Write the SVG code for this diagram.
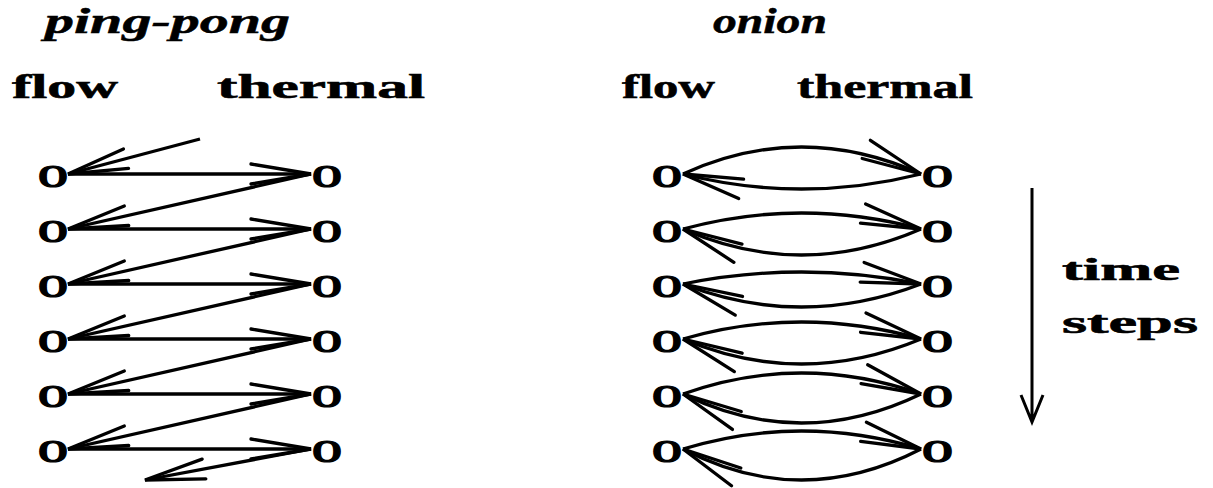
<svg xmlns="http://www.w3.org/2000/svg" width="1213" height="488" viewBox="0 0 1213 488">
<style>
.t{font-family:"Liberation Serif","Times New Roman",serif;font-weight:bold;fill:#000;stroke:#000;stroke-width:0.6}
.ti{font-family:"Liberation Serif","Times New Roman",serif;font-weight:bold;font-style:italic;fill:#000;stroke:#000;stroke-width:0.5}
.n{font-family:"Liberation Serif","Times New Roman",serif;font-weight:bold;font-size:31px;fill:#000;stroke:#000;stroke-width:1.2}
.c{fill:none;stroke:#000;stroke-width:3.3;marker-end:url(#h)}
</style>
<defs>
<marker id="h" markerUnits="userSpaceOnUse" viewBox="-70 -20 80 40" markerWidth="80" markerHeight="40" refX="0" refY="0" orient="auto" overflow="visible">
<path d="M-60,-10 L0,0 L-60,10" fill="none" stroke="#000" stroke-width="3.3" stroke-linecap="round"/>
</marker>
</defs>
<rect width="1213" height="488" fill="#fff"/>
<g id="titles">
<text class="ti" x="45" y="33" font-size="36" textLength="245" lengthAdjust="spacingAndGlyphs">ping-pong</text>
<text class="ti" x="713" y="33" font-size="36" textLength="114" lengthAdjust="spacingAndGlyphs">onion</text>
<text class="t" x="12" y="98" font-size="34" textLength="106" lengthAdjust="spacingAndGlyphs">flow</text>
<text class="t" x="217" y="98" font-size="34" textLength="208" lengthAdjust="spacingAndGlyphs">thermal</text>
<text class="t" x="622" y="98" font-size="34" textLength="93" lengthAdjust="spacingAndGlyphs">flow</text>
<text class="t" x="797" y="98" font-size="34" textLength="176" lengthAdjust="spacingAndGlyphs">thermal</text>
<text class="t" x="1062" y="280" font-size="32" textLength="118" lengthAdjust="spacingAndGlyphs">time</text>
<text class="t" x="1062" y="333" font-size="32" textLength="136" lengthAdjust="spacingAndGlyphs">steps</text>
</g>
<g id="pp-nodes">
<g id="pp-f1"><text class="n" x="38" y="187" textLength="30" lengthAdjust="spacingAndGlyphs">O</text></g>
<g id="pp-f2"><text class="n" x="38" y="242" textLength="30" lengthAdjust="spacingAndGlyphs">O</text></g>
<g id="pp-f3"><text class="n" x="38" y="297" textLength="30" lengthAdjust="spacingAndGlyphs">O</text></g>
<g id="pp-f4"><text class="n" x="38" y="352" textLength="30" lengthAdjust="spacingAndGlyphs">O</text></g>
<g id="pp-f5"><text class="n" x="38" y="407" textLength="30" lengthAdjust="spacingAndGlyphs">O</text></g>
<g id="pp-f6"><text class="n" x="38" y="462" textLength="30" lengthAdjust="spacingAndGlyphs">O</text></g>
<g id="pp-t1"><text class="n" x="312" y="187" textLength="30" lengthAdjust="spacingAndGlyphs">O</text></g>
<g id="pp-t2"><text class="n" x="312" y="242" textLength="30" lengthAdjust="spacingAndGlyphs">O</text></g>
<g id="pp-t3"><text class="n" x="312" y="297" textLength="30" lengthAdjust="spacingAndGlyphs">O</text></g>
<g id="pp-t4"><text class="n" x="312" y="352" textLength="30" lengthAdjust="spacingAndGlyphs">O</text></g>
<g id="pp-t5"><text class="n" x="312" y="407" textLength="30" lengthAdjust="spacingAndGlyphs">O</text></g>
<g id="pp-t6"><text class="n" x="312" y="462" textLength="30" lengthAdjust="spacingAndGlyphs">O</text></g>
</g>
<g id="on-nodes">
<g id="on-f1"><text class="n" x="652" y="187" textLength="30" lengthAdjust="spacingAndGlyphs">O</text></g>
<g id="on-f2"><text class="n" x="652" y="242" textLength="30" lengthAdjust="spacingAndGlyphs">O</text></g>
<g id="on-f3"><text class="n" x="652" y="297" textLength="30" lengthAdjust="spacingAndGlyphs">O</text></g>
<g id="on-f4"><text class="n" x="652" y="352" textLength="30" lengthAdjust="spacingAndGlyphs">O</text></g>
<g id="on-f5"><text class="n" x="652" y="407" textLength="30" lengthAdjust="spacingAndGlyphs">O</text></g>
<g id="on-f6"><text class="n" x="652" y="462" textLength="30" lengthAdjust="spacingAndGlyphs">O</text></g>
<g id="on-t1"><text class="n" x="922" y="187" textLength="31" lengthAdjust="spacingAndGlyphs">O</text></g>
<g id="on-t2"><text class="n" x="922" y="242" textLength="31" lengthAdjust="spacingAndGlyphs">O</text></g>
<g id="on-t3"><text class="n" x="922" y="297" textLength="31" lengthAdjust="spacingAndGlyphs">O</text></g>
<g id="on-t4"><text class="n" x="922" y="352" textLength="31" lengthAdjust="spacingAndGlyphs">O</text></g>
<g id="on-t5"><text class="n" x="922" y="407" textLength="31" lengthAdjust="spacingAndGlyphs">O</text></g>
<g id="on-t6"><text class="n" x="922" y="462" textLength="31" lengthAdjust="spacingAndGlyphs">O</text></g>
</g>
<g id="connectors">
<path class="c" d="M200,139 L68,174"/>
<path class="c" d="M68,174 L311,174"/>
<path class="c" d="M311,174 L68,229"/>
<path class="c" d="M68,229 L311,229"/>
<path class="c" d="M311,229 L68,284"/>
<path class="c" d="M68,284 L311,284"/>
<path class="c" d="M311,284 L68,339"/>
<path class="c" d="M68,339 L311,339"/>
<path class="c" d="M311,339 L68,394"/>
<path class="c" d="M68,394 L311,394"/>
<path class="c" d="M311,394 L68,449"/>
<path class="c" d="M68,449 L311,449"/>
<path class="c" d="M311,449 L145,480"/>
<path class="c" d="M683,174 Q801,120 921,174"/>
<path class="c" d="M921,174 Q801,204 683,174"/>
<path class="c" d="M683,229 Q801,197 921,229"/>
<path class="c" d="M921,229 Q801,281 683,229"/>
<path class="c" d="M683,284 Q801,260 921,284"/>
<path class="c" d="M921,284 Q801,330 683,284"/>
<path class="c" d="M683,339 Q801,305 921,339"/>
<path class="c" d="M921,339 Q801,389 683,339"/>
<path class="c" d="M683,394 Q801,352 921,394"/>
<path class="c" d="M921,394 Q801,452 683,394"/>
<path class="c" d="M683,449 Q801,413 921,449"/>
<path class="c" d="M921,449 Q801,511 683,449"/>
<path d="M1032,188 L1032,422 M1021,395 L1032,422 L1043,395" fill="none" stroke="#000" stroke-width="3"/>
</g>
</svg>
